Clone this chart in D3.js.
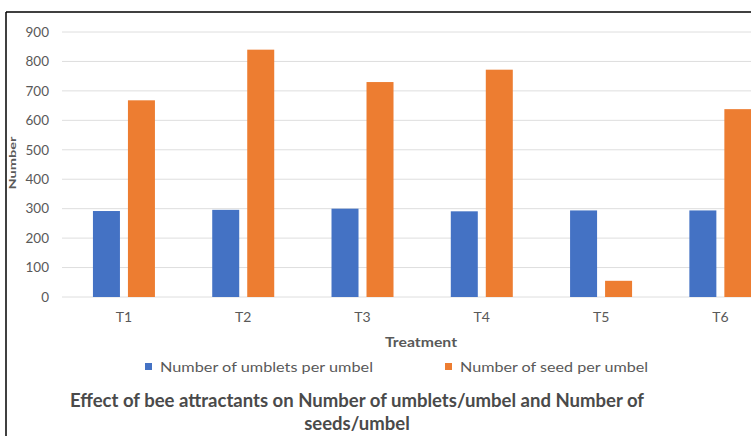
<!DOCTYPE html>
<html>
<head>
<meta charset="utf-8">
<script src="https://cdn.jsdelivr.net/npm/d3@7/dist/d3.min.js"></script>
<style>
  html, body { margin: 0; padding: 0; background: #fff; }
  svg { display: block; font-family: Lato, "Open Sans", sans-serif; }
</style>
</head>
<body>
<svg id="chart" width="751" height="436"></svg>
<script>
// Treatments and the two measured series
const categories = ["T1", "T2", "T3", "T4", "T5", "T6"];
const umbletsPerUmbel = [292, 296, 300, 291, 294, 294];
const seedsPerUmbel = [668, 840, 730, 772, 55, 638];
const seriesNames = ["Number of umblets per umbel", "Number of seed per umbel"];
const yTicks = [0, 100, 200, 300, 400, 500, 600, 700, 800, 900];
const titleLines = ["Effect of bee attractants on Number of umblets/umbel and Number of", "seeds/umbel"];

const colors = ["#4472C4", "#ED7D31"];
const svg = d3.select("#chart");

// Frame lines along the top and left edges
svg.append("line").attr("x1", 6).attr("y1", 12).attr("x2", 751).attr("y2", 12)
  .attr("stroke", "#000").attr("stroke-width", 1.5);
svg.append("line").attr("x1", 6).attr("y1", 12).attr("x2", 6).attr("y2", 436)
  .attr("stroke", "#000").attr("stroke-width", 1.5);

// Plot area (the category band runs past the right edge of the canvas)
const plot = { left: 64.3, right: 780, top: 32, bottom: 297 };

const x = d3.scaleBand().domain(categories).range([plot.left, plot.right]).padding(0);
const y = d3.scaleLinear().domain([0, 900]).range([plot.bottom, plot.top]);

// Horizontal gridlines
svg.append("g").selectAll("line").data(yTicks).join("line")
  .attr("x1", 62).attr("x2", 751)
  .attr("y1", d => y(d)).attr("y2", d => y(d))
  .attr("stroke", "#dedede").attr("stroke-width", 1);

// Y axis labels
const yAxis = d3.axisLeft(y).tickValues(yTicks).tickSize(0).tickPadding(0);
const gy = svg.append("g").attr("transform", "translate(49,0)").call(yAxis);
gy.select(".domain").remove();
gy.selectAll("text").attr("fill", "#595959").attr("font-size", 13.5)
  .attr("font-family", "Lato, sans-serif");

// Bars: two per treatment, a small gap between them
const barW = 27, innerGap = 8;
const series = [umbletsPerUmbel, seedsPerUmbel];
series.forEach((vals, si) => {
  svg.append("g").selectAll("rect").data(categories).join("rect")
    .attr("x", (c) => x(c) + x.bandwidth() / 2 + (si === 0 ? -innerGap / 2 - barW : innerGap / 2))
    .attr("width", barW)
    .attr("y", (c, i) => y(vals[i]))
    .attr("height", (c, i) => y(0) - y(vals[i]))
    .attr("fill", colors[si]);
});

// X axis category labels
const xAxis = d3.axisBottom(x).tickSize(0).tickPadding(0);
const gx = svg.append("g").attr("transform", "translate(0,312)").call(xAxis);
gx.select(".domain").remove();
gx.selectAll("text").attr("fill", "#595959").attr("font-size", 14)
  .attr("font-family", "Lato, sans-serif");

// Axis titles
svg.append("text").attr("x", 421).attr("y", 347).attr("text-anchor", "middle")
  .attr("fill", "#595959").attr("font-size", 13).attr("font-weight", 700)
  .attr("textLength", 72).attr("lengthAdjust", "spacingAndGlyphs")
  .text("Treatment");
svg.append("text").attr("transform", "translate(16,163) rotate(-90)")
  .attr("text-anchor", "middle").attr("fill", "#595959")
  .attr("font-size", 10).attr("font-weight", 700)
  .attr("textLength", 53).attr("lengthAdjust", "spacingAndGlyphs")
  .text("Number");

// Legend
const legendItems = [
  { sx: 145, tx: 160, len: 213 },
  { sx: 445, tx: 460, len: 188 }
];
legendItems.forEach((it, i) => {
  svg.append("rect").attr("x", it.sx).attr("y", 363).attr("width", 7).attr("height", 7)
    .attr("fill", colors[i]);
  svg.append("text").attr("x", it.tx).attr("y", 372)
    .attr("fill", "#595959").attr("font-size", 13.5)
    .attr("textLength", it.len).attr("lengthAdjust", "spacingAndGlyphs")
    .text(seriesNames[i]);
});

// Caption below the chart
svg.append("text").attr("x", 357).attr("y", 407).attr("text-anchor", "middle")
  .attr("fill", "#4a4a4a").attr("font-size", 18.5).attr("font-weight", 700)
  .attr("textLength", 574).attr("lengthAdjust", "spacingAndGlyphs")
  .text(titleLines[0]);
svg.append("text").attr("x", 357).attr("y", 430).attr("text-anchor", "middle")
  .attr("fill", "#4a4a4a").attr("font-size", 18.5).attr("font-weight", 700)
  .text(titleLines[1]);
</script>
</body>
</html>
